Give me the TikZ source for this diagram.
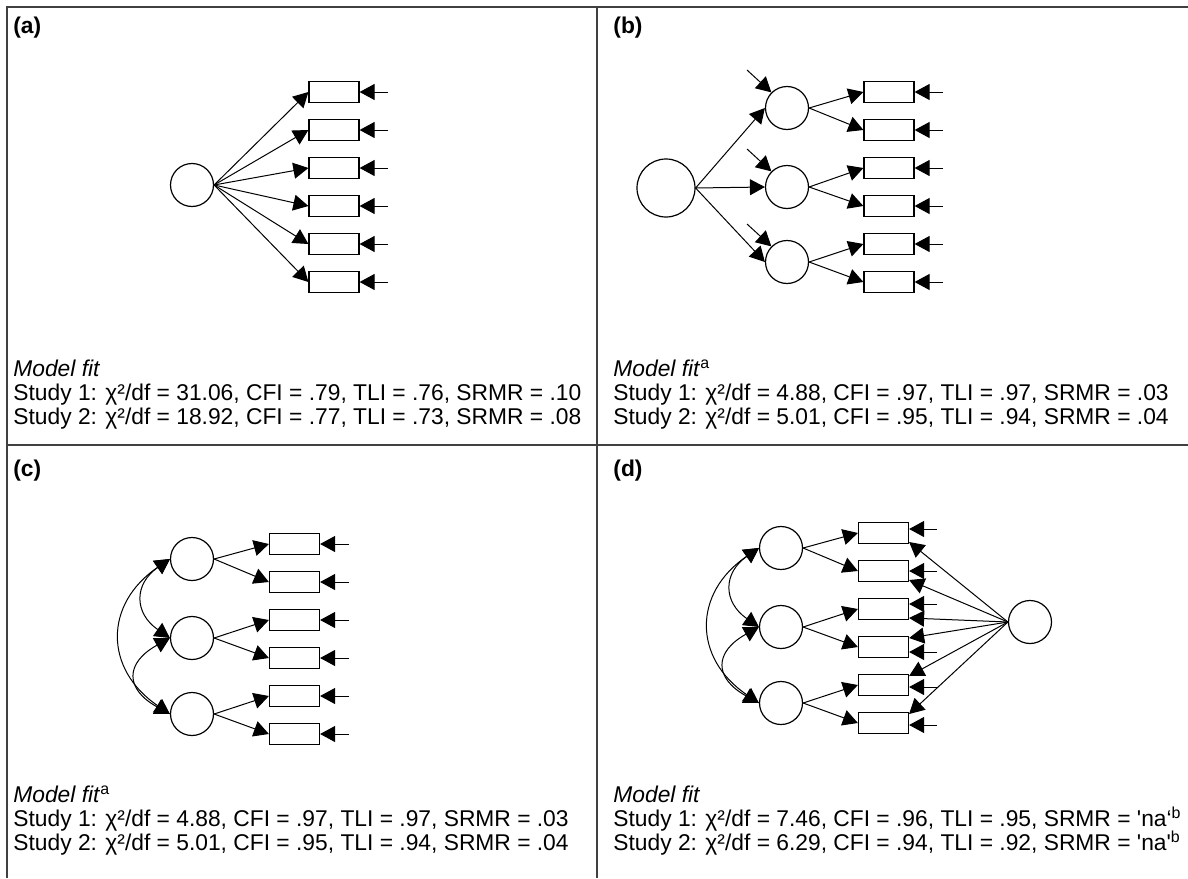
\documentclass[tikz,border=0pt]{standalone}
\usepackage{fontspec}
\setmainfont{Liberation Sans}
\usetikzlibrary{arrows.meta,calc}
\newcommand{\figfont}{\fontsize{11.4}{13.6}\selectfont}

\begin{document}
\begin{tikzpicture}[x = 0.5pt, y = -0.5pt, font = \figfont,
    latent/.style = {shape = circle, draw, line width = 0.6pt, minimum size = 21.5pt, inner sep = 0pt},
    manifest/.style = {shape = rectangle, draw, line width = 0.6pt, minimum width = 25pt, minimum height = 10.5pt, inner sep = 0pt},
    arr/.style = {-{Triangle[length = 7.5pt, width = 8pt]}, line width = 0.5pt},
    cov/.style = {{Triangle[length = 7.5pt, width = 8pt]}-{Triangle[length = 7.5pt, width = 8pt]}, line width = 0.5pt},
    frame/.style = {line width = 0.8pt, black!75},
    fitline/.style = {anchor = base west, inner sep = 0pt},
    panellabel/.style = {anchor = base west, inner sep = 0pt, font = \figfont\bfseries}]
    \useasboundingbox (0,0) rectangle (1188,878);

    % table frame
    \draw[frame] (7,878) -- (7,7) -- (1188,7);
    \draw[frame] (597,7) -- (597,878);
    \draw[frame] (7,445) -- (1188,445);

    % (a) one factor
    \node[panellabel] (labA) at (13,33) {(a)};
    \node[latent] (A) at (192,185) {};
    \foreach \i/\y in {1/92, 2/130, 3/168, 4/206, 5/244, 6/282} {
        \node[manifest] (A\i) at (334,\y) {};
        \coordinate (Ae\i) at (388,\y);
        \draw[arr] (A.east) -- (A\i.west);
        \draw[arr] (Ae\i) -- (A\i.east);
    }
    \node[fitline] (fitA0) at (13,376) {\textit{Model fit}};
    \node[fitline] (fitA1) at (13,400) {Study 1: χ²/df = 31.06, CFI = .79, TLI = .76, SRMR = .10};
    \node[fitline] (fitA2) at (13,424) {Study 2: χ²/df = 18.92, CFI = .77, TLI = .73, SRMR = .08};

    % (b) second order
    \node[panellabel] (labB) at (613,33) {(b)};
    \node[latent, minimum size = 29pt] (B) at (666,188) {};
    \foreach \j/\y in {1/108, 2/187, 3/262} {
        \node[latent] (B\j) at (787,\y) {};
        \coordinate (Bd\j) at ($(B\j)+(-40,-38)$);
        \draw[arr] (B.east) -- (B\j.west);
        \draw[arr] (Bd\j) -- (B\j.135);
    }
    \foreach \i/\y/\f in {1/92/1, 2/130/1, 3/168/2, 4/206/2, 5/244/3, 6/282/3} {
        \node[manifest] (B\f\i) at (889,\y) {};
        \coordinate (Be\i) at (943,\y);
        \draw[arr] (B\f.east) -- (B\f\i.west);
        \draw[arr] (Be\i) -- (B\f\i.east);
    }
    \node[fitline] (fitB0) at (613,376) {\textit{Model fit}\textsuperscript{a}};
    \node[fitline] (fitB1) at (613,400) {Study 1: χ²/df = 4.88, CFI = .97, TLI = .97, SRMR = .03};
    \node[fitline] (fitB2) at (613,424) {Study 2: χ²/df = 5.01, CFI = .95, TLI = .94, SRMR = .04};

    % (c) correlated factors
    \node[panellabel] (labC) at (13,476) {(c)};
    \foreach \j/\y in {1/559, 2/638, 3/714}
        \node[latent] (C\j) at (192,\y) {};
    \foreach \i/\y/\f in {1/544/1, 2/582/1, 3/620/2, 4/658/2, 5/696/3, 6/734/3} {
        \node[manifest] (C\f\i) at (294.5,\y) {};
        \coordinate (Ce\i) at (349,\y);
        \draw[arr] (C\f.east) -- (C\f\i.west);
        \draw[arr] (Ce\i) -- (C\f\i.east);
    }
    \draw[cov] (C1.west) .. controls +(-36,25) and +(-36,-25) .. (C2.west);
    \draw[cov] (C2.west) .. controls +(-45,25) and +(-45,-25) .. (C3.west);
    \draw[cov] (C1.west) .. controls +(-66,45) and +(-66,-45) .. (C3.west);
    \node[fitline] (fitC0) at (13,802) {\textit{Model fit}\textsuperscript{a}};
    \node[fitline] (fitC1) at (13,826) {Study 1: χ²/df = 4.88, CFI = .97, TLI = .97, SRMR = .03};
    \node[fitline] (fitC2) at (13,850) {Study 2: χ²/df = 5.01, CFI = .95, TLI = .94, SRMR = .04};

    % (d) correlated factors plus method factor
    \node[panellabel] (labD) at (613,476) {(d)};
    \foreach \j/\y in {1/548, 2/627, 3/703}
        \node[latent] (D\j) at (781,\y) {};
    \node[latent] (M) at (1030,622) {};
    \foreach \i/\y/\f/\e/\m in {1/533/1/-4/9, 2/571/1/0/9, 3/609/2/-5/9, 4/647/2/5/-9, 5/685/3/2/-9, 6/723/3/2/-9} {
        \node[manifest] (D\f\i) at (883.5,\y) {};
        \coordinate (De\i) at (937,\y+\e);
        \draw[arr] (D\f.east) -- (D\f\i.west);
        \draw[arr] (De\i) -- ($(D\f\i.east)+(0,\e)$);
        \draw[arr] (M.west) -- ($(D\f\i.east)+(0,\m)$);
    }
    \draw[cov] (D1.west) .. controls +(-36,25) and +(-36,-25) .. (D2.west);
    \draw[cov] (D2.west) .. controls +(-45,25) and +(-45,-25) .. (D3.west);
    \draw[cov] (D1.west) .. controls +(-66,45) and +(-66,-45) .. (D3.west);
    \node[fitline] (fitD0) at (613,802) {\textit{Model fit}};
    \node[fitline] (fitD1) at (613,826) {Study 1: χ²/df = 7.46, CFI = .96, TLI = .95, SRMR = \textquotesingle na‘\textsuperscript{b}};
    \node[fitline] (fitD2) at (613,850) {Study 2: χ²/df = 6.29, CFI = .94, TLI = .92, SRMR = \textquotesingle na\textquotesingle\textsuperscript{b}};
\end{tikzpicture}
\end{document}
